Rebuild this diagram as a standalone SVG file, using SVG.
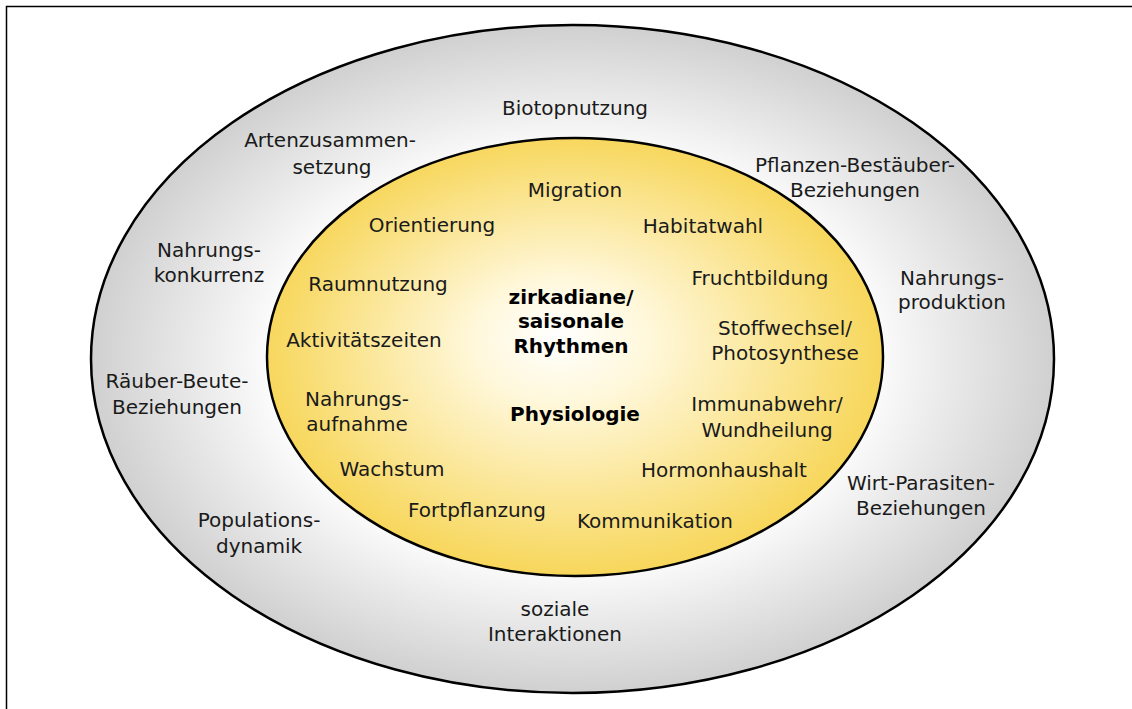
<svg xmlns="http://www.w3.org/2000/svg" width="1132" height="709" viewBox="0 0 1132 709">
  <style>
    text { font-family: "DejaVu Sans", Verdana, "Liberation Sans", sans-serif; font-size: 20px; fill: #1a1a1a; text-anchor: middle; }
    .b { font-weight: bold; fill: #000; }
  </style>
  <defs>
    <radialGradient id="gOuter" cx="0.5" cy="0.5" r="0.5">
      <stop offset="0.6" stop-color="#ffffff"/>
      <stop offset="1" stop-color="#d0d0d0"/>
    </radialGradient>
    <radialGradient id="gInner" cx="0.5" cy="0.5" r="0.55" fx="0.47" fy="0.45">
      <stop offset="0" stop-color="#ffffff"/>
      <stop offset="0.25" stop-color="#fff8dc"/>
      <stop offset="1" stop-color="#f6d24a"/>
    </radialGradient>
  </defs>
  <rect x="0" y="0" width="1132" height="709" fill="#ffffff"/>
  <rect id="frame" x="6.5" y="6.5" width="1140" height="720" fill="none" stroke="#000" stroke-width="1.5"/>

  <g id="outer-ring">
    <ellipse cx="572.5" cy="359" rx="481.5" ry="334" fill="url(#gOuter)" stroke="#000" stroke-width="2.5"/>
  </g>
  <g id="inner-ring">
    <ellipse cx="575" cy="357" rx="308" ry="219" fill="url(#gInner)" stroke="#000" stroke-width="2.5"/>
  </g>

  <g id="connectors"></g>

  <g id="n-biotopnutzung"><text x="575" y="115">Biotopnutzung</text></g>
  <g id="n-artenzusammensetzung"><text x="330" y="147">Artenzusammen-</text><text x="332" y="174">setzung</text></g>
  <g id="n-pflanzen"><text x="855" y="172">Pflanzen-Bestäuber-</text><text x="855" y="197">Beziehungen</text></g>
  <g id="n-nahrungskonkurrenz"><text x="209" y="257">Nahrungs-</text><text x="209" y="282">konkurrenz</text></g>
  <g id="n-nahrungsproduktion"><text x="952" y="285">Nahrungs-</text><text x="952" y="309">produktion</text></g>
  <g id="n-raeuber"><text x="177" y="388">Räuber-Beute-</text><text x="177" y="414">Beziehungen</text></g>
  <g id="n-wirt"><text x="921" y="490">Wirt-Parasiten-</text><text x="921" y="515">Beziehungen</text></g>
  <g id="n-population"><text x="259" y="527">Populations-</text><text x="259" y="553">dynamik</text></g>
  <g id="n-sozial"><text x="555" y="616">soziale</text><text x="555" y="641">Interaktionen</text></g>

  <g id="n-migration"><text x="575" y="197">Migration</text></g>
  <g id="n-orientierung"><text x="432" y="232">Orientierung</text></g>
  <g id="n-habitatwahl"><text x="703" y="233">Habitatwahl</text></g>
  <g id="n-raumnutzung"><text x="378" y="291">Raumnutzung</text></g>
  <g id="n-fruchtbildung"><text x="760" y="285">Fruchtbildung</text></g>
  <g id="n-rhythmen"><text class="b" x="571" y="304">zirkadiane/</text><text class="b" x="571" y="328">saisonale</text><text class="b" x="571" y="353">Rhythmen</text></g>
  <g id="n-stoffwechsel"><text x="785" y="335">Stoffwechsel/</text><text x="785" y="360">Photosynthese</text></g>
  <g id="n-aktivitaet"><text x="364" y="347">Aktivitätszeiten</text></g>
  <g id="n-nahrungsaufnahme"><text x="357" y="406">Nahrungs-</text><text x="357" y="431">aufnahme</text></g>
  <g id="n-physiologie"><text class="b" x="575" y="421">Physiologie</text></g>
  <g id="n-immunabwehr"><text x="767" y="411">Immunabwehr/</text><text x="767" y="437">Wundheilung</text></g>
  <g id="n-wachstum"><text x="392" y="476">Wachstum</text></g>
  <g id="n-hormon"><text x="724" y="477">Hormonhaushalt</text></g>
  <g id="n-fortpflanzung"><text x="477" y="517">Fortpflanzung</text></g>
  <g id="n-kommunikation"><text x="655" y="528">Kommunikation</text></g>
</svg>
